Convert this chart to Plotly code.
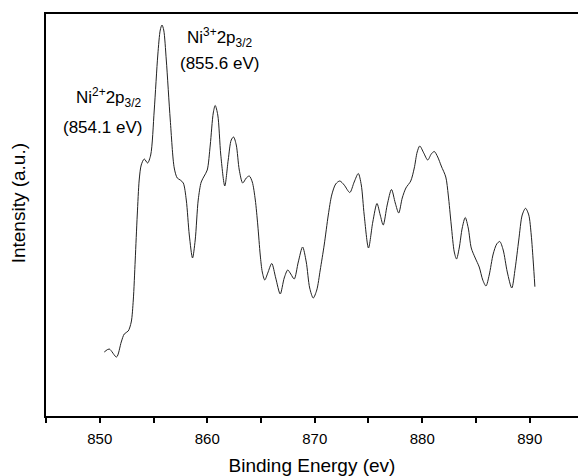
import plotly.graph_objects as go

# Ni 2p3/2 XPS spectrum (binding energy in eV, intensity in arbitrary units)
binding_energy = [
    850.42, 850.88, 851.56, 852.00, 852.28, 852.65, 852.93, 853.12, 853.30, 853.49,
    853.67, 853.86, 854.14, 854.45, 854.74, 855.07, 855.40, 855.63, 855.79, 855.95,
    856.19, 856.56, 856.93, 857.21, 857.49, 857.77, 858.05, 858.33, 858.63, 858.88,
    859.16, 859.44, 859.72, 860.00, 860.28, 860.56, 860.74, 860.98, 861.26, 861.63,
    861.95, 862.23, 862.45, 862.70, 862.98, 863.30, 863.63, 863.91, 864.19, 864.47,
    864.70, 864.93, 865.12, 865.35, 865.63, 866.00, 866.37, 866.79, 867.16, 867.49,
    867.77, 868.09, 868.47, 868.87, 869.21, 869.53, 869.86, 870.19, 870.51, 870.88,
    871.26, 871.58, 871.95, 872.33, 872.74, 873.26, 873.67, 874.05, 874.33, 874.60,
    875.00, 875.40, 875.79, 876.09, 876.37, 876.74, 877.14, 877.49, 877.81, 878.14,
    878.48, 878.93, 879.26, 879.53, 879.77, 880.14, 880.51, 880.84, 881.12, 881.44,
    881.77, 882.19, 882.42, 882.70, 882.98, 883.19, 883.44, 883.72, 884.00, 884.28,
    884.56, 884.93, 885.30, 885.63, 885.93, 886.23, 886.60, 886.93, 887.21, 887.53,
    887.91, 888.33, 888.65, 888.98, 889.30, 889.61, 889.91, 890.14, 890.33, 890.48,
]
intensity = [
    64, 67, 59, 74, 82, 85, 94, 116, 156, 201,
    236, 251, 257, 253, 261, 306, 361, 386, 391, 386,
    356, 296, 248, 238, 236, 233, 216, 181, 158, 176,
    216, 234, 240, 246, 271, 303, 310.5, 301, 261, 230,
    256, 276, 279, 271, 246, 233, 238, 240, 234, 216,
    191, 161, 144, 136, 143, 152.5, 138, 122, 138, 146,
    142, 137, 154, 169, 154, 128, 118, 126, 146, 171,
    201, 221, 232, 235, 231, 223.5, 234, 242.5, 231, 201,
    168, 194, 212.5, 201, 191, 211, 226.5, 213, 203, 218,
    228, 235, 248, 264, 270, 263, 256, 262, 264.5, 259,
    250, 239, 221, 191, 164, 157, 168, 188, 198.5, 188,
    168, 158, 149, 136, 130, 141, 162, 172, 174.5, 166,
    144, 128, 148, 176, 201, 207.7, 201, 181, 154, 129.3,
]

x_ticks = [850, 860, 870, 880, 890]
x_minor_ticks = [845, 855, 865, 875, 885]
x_range = [845, 894.49]
y_range = [0, 402]

FONT = "Liberation Sans, Arial, sans-serif"

fig = go.Figure()
fig.add_trace(go.Scatter(
    x=binding_energy, y=intensity, mode="lines",
    line=dict(color="#222222", width=1, shape="spline", smoothing=0.8),
    hoverinfo="skip", showlegend=False,
))

# Peak assignments
labels = [
    dict(x=850.8, y=319, text="Ni<sup>2+</sup>2p<sub>3/2</sub>"),
    dict(x=850.23, y=289, text="(854.1 eV)"),
    dict(x=861.1, y=379, text="Ni<sup>3+</sup>2p<sub>3/2</sub>"),
    dict(x=861.1, y=353, text="(855.6 eV)"),
]
for lab in labels:
    fig.add_annotation(
        x=lab["x"], y=lab["y"], xref="x", yref="y", text=lab["text"],
        showarrow=False, font=dict(family=FONT, size=17, color="black"),
        xanchor="center", yanchor="middle",
    )

# Vertical axis title
fig.add_annotation(
    x=-0.05, y=0.53, xref="paper", yref="paper", text="Intensity (a.u.)",
    textangle=-90, showarrow=False, xanchor="center", yanchor="middle",
    font=dict(family=FONT, size=19, color="black"),
)

fig.update_layout(
    width=578, height=476,
    margin=dict(l=46, r=0, t=14, b=60),
    paper_bgcolor="white", plot_bgcolor="white",
    font=dict(family=FONT, color="black"),
)
fig.update_xaxes(
    range=x_range, tickvals=x_ticks, ticktext=[str(v) for v in x_ticks],
    ticks="outside", ticklen=5, tickwidth=1.5, tickcolor="black",
    ticklabelstandoff=3,
    minor=dict(tickvals=x_minor_ticks, ticks="outside", ticklen=5,
               tickwidth=1.5, tickcolor="black"),
    showline=True, linecolor="black", linewidth=2, mirror=True,
    showgrid=False, zeroline=False,
    tickfont=dict(family=FONT, size=15, color="black"),
    title=dict(text="Binding Energy (ev)", font=dict(family=FONT, size=19, color="black"),
               standoff=16),
)
fig.update_yaxes(
    range=y_range, showticklabels=False, ticks="",
    showline=True, linecolor="black", linewidth=2, mirror=False,
    showgrid=False, zeroline=False,
)

fig.write_html("out.html")
